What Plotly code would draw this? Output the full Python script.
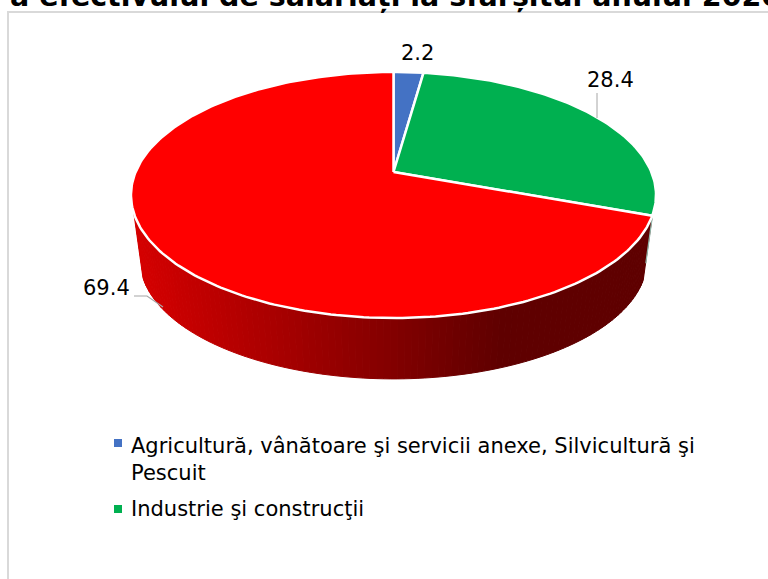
import math
import plotly.graph_objects as go

categories = ["Agricultură, vânătoare şi servicii anexe, Silvicultură şi<br>Pescuit",
              "Industrie şi construcţii", "Servicii"]
values = [2.2, 28.4, 69.4]
colors = ["#4472C4", "#00B050", "#FF0000"]
title_text = "a efectivului de salariați la sfârșitul anului 2020"

W, H = 768, 579
CX, CY = 393.5, 172.0
R, S, K = 257.9, 118.7, 0.187
DEPTH_S, DEPTH_CY = 0.965, 238.0
FONT = "DejaVu Sans"


def rim(deg, scale=1.0, cy=CY):
    t = math.radians(deg)
    u, v = math.sin(t), math.cos(t)
    w = 1 + K * v
    return CX + scale * R * u / w, cy - scale * S * v / w


def side_color(x):
    f = min(max((x - 135) / (500 - 135), 0), 1)
    return "rgb(%d,0,0)" % round(214 - f * (214 - 95))


total = sum(values)
edges = [0.0]
for val in values:
    edges.append(edges[-1] + val / total * 360)

fig = go.Figure()

# extruded wall of the largest slice
start, end = edges[2], 251.0
n = 110
for i in range(n):
    a0 = start + (end - start) * i / n
    a1 = start + (end - start) * (i + 1) / n
    p = [rim(a0), rim(a1), rim(a1, DEPTH_S, DEPTH_CY), rim(a0, DEPTH_S, DEPTH_CY)]
    xs = [q[0] for q in p] + [p[0][0]]
    ys = [q[1] for q in p] + [p[0][1]]
    col = side_color(sum(xs[:4]) / 4)
    fig.add_trace(go.Scatter(x=xs, y=ys, mode="lines", fill="toself", fillcolor=col,
                             line=dict(color=col, width=1), hoverinfo="skip", showlegend=False))

# sliver of the neighbouring wall
sx0, sy0 = rim(edges[2] - 0.4)
sx1, sy1 = rim(edges[2] - 0.4, DEPTH_S, DEPTH_CY)
fig.add_trace(go.Scatter(x=[sx0, sx0 + (sx1 - sx0) * 0.75], y=[sy0, sy0 + (sy1 - sy0) * 0.75],
                         mode="lines", line=dict(color="#8FB5A8", width=1.2),
                         hoverinfo="skip", showlegend=False))

# top faces
for i in range(3):
    a0, a1 = edges[i], edges[i + 1]
    steps = max(8, int(a1 - a0))
    pts = [rim(a0 + (a1 - a0) * j / steps) for j in range(steps + 1)]
    xs = [CX] + [q[0] for q in pts] + [CX]
    ys = [CY] + [q[1] for q in pts] + [CY]
    fig.add_trace(go.Scatter(x=xs, y=ys, mode="lines", fill="toself", fillcolor=colors[i],
                             line=dict(color="white", width=2.5), name=categories[i],
                             hoverinfo="skip", showlegend=False))

# leader lines
fig.add_trace(go.Scatter(x=[597, 597], y=[93, 118], mode="lines",
                         line=dict(color="#A6A6A6", width=1), hoverinfo="skip", showlegend=False))
fig.add_trace(go.Scatter(x=[134, 147, 163], y=[296, 296, 307], mode="lines",
                         line=dict(color="#A6A6A6", width=1.2), hoverinfo="skip", showlegend=False))

# legend markers
legend_y = [443, 509]
fig.add_trace(go.Scatter(x=[118, 118], y=legend_y, mode="markers",
                         marker=dict(symbol="square", size=8, color=colors[:2]),
                         hoverinfo="skip", showlegend=False))

annotations = []
for txt, x, y in zip(values, [417, 610, 106], [53, 80, 288]):
    annotations.append(dict(x=x, y=y, text=f"{txt:.1f}", showarrow=False, xref="x", yref="y",
                            xanchor="center", yanchor="middle",
                            font=dict(family=FONT, size=21, color="#000000")))
for txt, y in zip(categories[:2], [459, 509]):
    annotations.append(dict(x=128.5, y=y, text=txt, showarrow=False, xref="x", yref="y",
                            xanchor="left", yanchor="middle", align="left",
                            font=dict(family=FONT, size=21, color="#000000")))

fig.update_layout(
    width=W, height=H, margin=dict(l=0, r=0, t=0, b=0),
    paper_bgcolor="white", plot_bgcolor="white", showlegend=False,
    title=dict(text="<b>" + title_text + "</b>", x=10 / W, xanchor="left", xref="paper",
               y=1 - 6 / H, yanchor="bottom", yref="container",
               font=dict(family=FONT, size=28.5, color="#000000")),
    xaxis=dict(range=[0, W], visible=False, fixedrange=True),
    yaxis=dict(range=[H, 0], visible=False, fixedrange=True),
    annotations=annotations,
    shapes=[dict(type="line", xref="x", yref="y", x0=8, x1=8, y0=12, y1=H,
                 line=dict(color="#D9D9D9", width=2)),
            dict(type="line", xref="x", yref="y", x0=7, x1=W, y0=12, y1=12,
                 line=dict(color="#D9D9D9", width=2))],
)
fig.write_html("out.html", config={"displayModeBar": False},
               post_script="document.body.style.margin='0';document.body.style.overflow='hidden';")
